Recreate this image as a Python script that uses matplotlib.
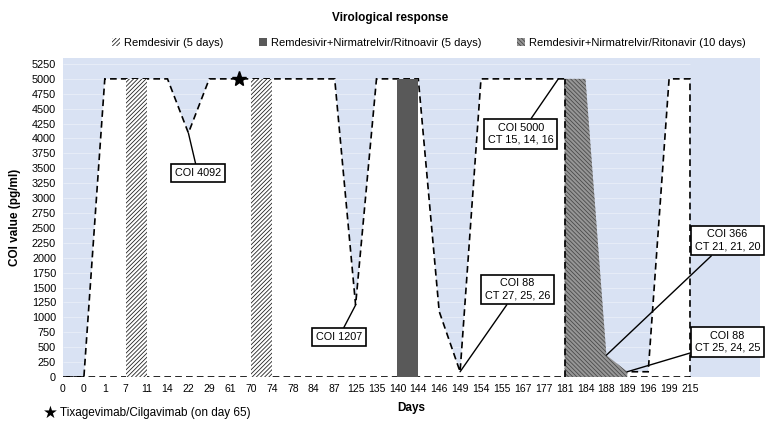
import matplotlib
matplotlib.use("Agg")
import matplotlib.pyplot as plt
import numpy as np
from matplotlib.patches import Patch

plt.rcParams['font.family'] = ['Liberation Sans', 'DejaVu Sans']
plt.rcParams['hatch.linewidth'] = 0.6

# data ==============================================================
days = [0, 0, 1, 7, 11, 14, 22, 29, 61, 70, 74, 78, 84, 87, 125, 135, 140, 144,
        146, 149, 154, 155, 167, 177, 181, 184, 188, 189, 196, 199, 215]
coi = [0, 0, 5000, 5000, 5000, 5000, 4092, 5000, 5000, 5000, 5000, 5000, 5000, 5000,
       1207, 5000, 5000, 5000, 1100, 88, 5000, 5000, 5000, 5000, 5000, 88, 88, 88, 88,
       5000, 5000]

remdesivir_5d = [(7, 11), (70, 74)]
combo_5d = [(140, 144)]
combo_10d_days = [181, 184, 188, 189]
combo_10d_coi = [5000, 5000, 366, 88]
bar_top = 5000

star_day = 65
star_coi = 5000

# (category index, value, text, text position)
notes = [
    (6, 4092, "COI 4092", (6.45, 3420)),
    (14, 1207, "COI 1207", (13.2, 670)),
    (19, 88, "COI 88\nCT 27, 25, 26", (21.75, 1470)),
    (23.7, 5000, "COI 5000\nCT 15, 14, 16", (21.9, 4080)),
    (26, 366, "COI 366\nCT 21, 21, 20", (31.8, 2290)),
    (27, 88, "COI 88\nCT 25, 24, 25", (31.8, 590)),
]

yticks = np.arange(0, 5251, 250)

# plotting ==========================================================
x = np.arange(len(days))


def idx(day, start=2):
    return days.index(day, start)


fig = plt.figure(figsize=(7.8, 4.32), dpi=100)
ax = fig.add_axes([63/780, 55/432, 697/780, 319/432])
ax.set_facecolor('#d9e2f3')
ax.set_xlim(0, 33.35)
ax.set_ylim(0, 5350)

ax.hlines(yticks, 0, x[-1], color='#e6ecf7', linewidth=0.8, zorder=0.5)

# white COI area with dashed border
ax.fill(np.r_[x, x[-1]], np.r_[coi, 0], facecolor='white', edgecolor='black',
        linestyle=(0, (4, 2.5)), linewidth=1.2, zorder=1)

# remdesivir 5 days
for d0, d1 in remdesivir_5d:
    ax.fill_between([idx(d0), idx(d1)], [bar_top, bar_top], facecolor='white',
                    hatch='////////', edgecolor='#222222', linewidth=0, zorder=2)

# remdesivir + nirmatrelvir 5 days
for d0, d1 in combo_5d:
    ax.fill_between([idx(d0), idx(d1)], [bar_top, bar_top], facecolor='#595959',
                    linewidth=0, zorder=2)

# remdesivir + nirmatrelvir 10 days
cx = [idx(d) for d in combo_10d_days]
ax.fill_between(cx, combo_10d_coi, facecolor='#969696', hatch='\\\\\\\\\\\\\\\\',
                edgecolor='#4a4a4a', linewidth=0, zorder=2)
ax.vlines(cx[0], 0, combo_10d_coi[0], color='black', linestyle=(0, (4, 2.5)),
          linewidth=1.2, zorder=3)

# tixagevimab star
sx = np.interp(star_day, [days[8], days[9]], [x[8], x[9]])
ax.plot(sx, star_coi, marker='*', markersize=11, color='black', zorder=5,
        clip_on=False)

for px, py, txt, pos in notes:
    ax.annotate(txt, xy=(px, py), xytext=pos, ha='center', va='center',
                fontsize=7.8, linespacing=1.25, zorder=6, annotation_clip=False,
                bbox=dict(boxstyle='square,pad=0.35', fc='white', ec='black', lw=1.2),
                arrowprops=dict(arrowstyle='-', color='black', lw=1,
                                shrinkA=0, shrinkB=0))

ax.set_xticks(x)
ax.set_xticklabels([str(d) for d in days], fontsize=7.5)
ax.set_yticks(yticks)
ax.set_yticklabels([str(v) for v in yticks], fontsize=7.8)
ax.tick_params(length=0, pad=5)
for s in ax.spines.values():
    s.set_visible(False)

ax.set_ylabel("COI value (pg/ml)", fontsize=8.5, fontweight='bold', labelpad=8)
ax.set_xlabel("Days", fontsize=8.5, fontweight='bold', labelpad=6)

fig.text(390/780, 1 - 18/432, "Virological response", ha='center', va='center',
         fontsize=8.5, fontweight='bold')

handles = [
    Patch(facecolor='white', hatch='////////', edgecolor='#222222', linewidth=0),
    Patch(facecolor='#595959', linewidth=0),
    Patch(facecolor='#969696', hatch='\\\\\\\\\\\\\\\\', edgecolor='#4a4a4a', linewidth=0),
]
labels = ["Remdesivir (5 days)", "Remdesivir+Nirmatrelvir/Ritnoavir (5 days)",
          "Remdesivir+Nirmatrelvir/Ritonavir (10 days)"]
fig.legend(handles, labels, loc='center', bbox_to_anchor=(429/780, 1 - 43/432),
           ncol=3, frameon=False, fontsize=8, handlelength=0.7, handleheight=0.7,
           handletextpad=0.4, columnspacing=3.2)

fig.text(50/780, 1 - 413/432, "\u2605", ha='center', va='center', fontsize=12,
         family=['DejaVu Sans'])
fig.text(60/780, 1 - 413/432, "Tixagevimab/Cilgavimab (on day 65)", ha='left',
         va='center', fontsize=8.5)

fig.savefig("out.png", dpi=100)
